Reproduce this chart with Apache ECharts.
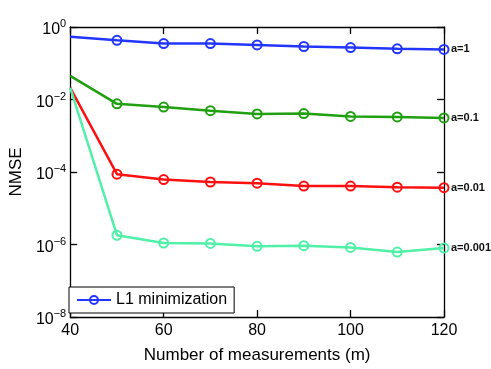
<!DOCTYPE html>
<html>
<head>
<meta charset="utf-8">
<script src="https://cdn.jsdelivr.net/npm/echarts@6/dist/echarts.min.js"></script>
<style>
  html, body { margin: 0; padding: 0; background: #fff; }
  #chart { width: 491px; height: 369px; }
</style>
</head>
<body>
<div id="chart"></div>
<script>
// measurements m
const xValues = [40, 50, 60, 70, 80, 90, 100, 110, 120];
// NMSE per sparsity level a
const nmseA1 = [0.54, 0.43, 0.35, 0.35, 0.32, 0.29, 0.27, 0.25, 0.24];
const nmseA01 = [0.045, 0.0076, 0.0062, 0.0049, 0.0040, 0.0041, 0.0034, 0.0033, 0.0031];
const nmseA001 = [0.021, 8.7e-5, 6.2e-5, 5.3e-5, 4.9e-5, 4.1e-5, 4.1e-5, 3.8e-5, 3.7e-5];
const nmseA0001 = [0.021, 1.8e-6, 1.1e-6, 1.07e-6, 8.9e-7, 9.3e-7, 8.3e-7, 6.2e-7, 8.0e-7];
const seriesLabels = ['a=1', 'a=0.1', 'a=0.01', 'a=0.001'];

const FONT = 'Liberation Sans, Arial, sans-serif';
const chart = echarts.init(document.getElementById('chart'));

const toPoints = (vals) => vals.map((v, i) => (
  i === 0 ? { value: [xValues[i], v], symbol: 'none' } : { value: [xValues[i], v] }
));

const makeSeries = (name, vals, color, label) => ({
  name: name,
  type: 'line',
  data: toPoints(vals),
  symbol: 'circle',
  symbolSize: 9,
  lineStyle: { color: color, width: 2.5 },
  itemStyle: { color: 'rgba(255,255,255,0)', borderColor: color, borderWidth: 2 },
  endLabel: {
    show: true,
    formatter: label,
    fontFamily: FONT,
    fontSize: 11,
    fontWeight: 'bold',
    color: '#111',
    distance: 7
  }
});

const pow10 = (v) => {
  const e = Math.round(Math.log10(v));
  return '{b|10}{s|' + (e < 0 ? '\u2212' + (-e) : e) + '}';
};

const ticks = () => ({ show: true, inside: true, length: 7, lineStyle: { color: '#000', width: 1.3 } });
const outTicks = () => ({ show: true, inside: false, length: 7, lineStyle: { color: '#000', width: 1.3 } });
const frameLine = () => ({ show: true, lineStyle: { color: '#000', width: 1.3 } });

const option = {
  animation: false,
  grid: { left: 64, right: 47, top: 27, bottom: 47 },
  legend: {
    data: ['L1 minimization'],
    left: 69,
    top: 287,
    backgroundColor: '#fff',
    borderColor: '#000',
    borderWidth: 1,
    borderRadius: 0,
    padding: [5, 7, 5, 7],
    itemWidth: 34,
    itemHeight: 10,
    textStyle: { fontFamily: FONT, fontSize: 16, color: '#000' }
  },
  xAxis: [
    {
      type: 'value', min: 40, max: 120, interval: 20,
      name: 'Number of measurements (m)',
      nameLocation: 'middle', nameGap: 30,
      nameTextStyle: { fontFamily: FONT, fontSize: 17, color: '#000' },
      axisLine: frameLine(),
      axisTick: { show: false },
      axisLabel: { fontFamily: FONT, fontSize: 16, color: '#000', margin: 6 },
      splitLine: { show: false }
    },
    {
      type: 'value', min: 40, max: 120, interval: 20, position: 'top',
      axisLine: frameLine(),
      axisTick: ticks(),
      axisLabel: { show: false },
      splitLine: { show: false }
    },
    {
      // bottom inner ticks: hidden axis shifted up, ticks pointing down to the frame
      type: 'value', min: 40, max: 120, interval: 20, position: 'bottom', offset: -7,
      axisLine: { show: false },
      axisTick: outTicks(),
      axisLabel: { show: false },
      splitLine: { show: false }
    }
  ],
  yAxis: [
    {
      type: 'log', min: 1e-8, max: 1, interval: 2,
      name: 'NMSE', nameLocation: 'middle', nameGap: 36,
      nameTextStyle: { fontFamily: FONT, fontSize: 17, color: '#000' },
      axisLine: frameLine(),
      axisTick: { show: false },
      axisLabel: {
        margin: 4,
        formatter: pow10,
        rich: {
          b: { fontFamily: FONT, fontSize: 16, color: '#000', padding: [6, 0, 0, 0] },
          s: { fontFamily: FONT, fontSize: 11, color: '#000', padding: [0, 0, 6, 0] }
        }
      },
      splitLine: { show: false }
    },
    {
      type: 'log', min: 1e-8, max: 1, interval: 2, position: 'right',
      axisLine: frameLine(),
      axisTick: ticks(),
      axisLabel: { show: false },
      splitLine: { show: false }
    },
    {
      // left inner ticks: hidden axis shifted right, ticks pointing left to the frame
      type: 'log', min: 1e-8, max: 1, interval: 2, position: 'left', offset: -7,
      axisLine: { show: false },
      axisTick: outTicks(),
      axisLabel: { show: false },
      splitLine: { show: false }
    }
  ],
  series: [
    makeSeries('L1 minimization', nmseA1, '#2236ff', seriesLabels[0]),
    makeSeries('a01', nmseA01, '#20a010', seriesLabels[1]),
    makeSeries('a001', nmseA001, '#ff1010', seriesLabels[2]),
    makeSeries('a0001', nmseA0001, '#50f0a8', seriesLabels[3])
  ]
};

chart.setOption(option);
</script>
</body>
</html>
